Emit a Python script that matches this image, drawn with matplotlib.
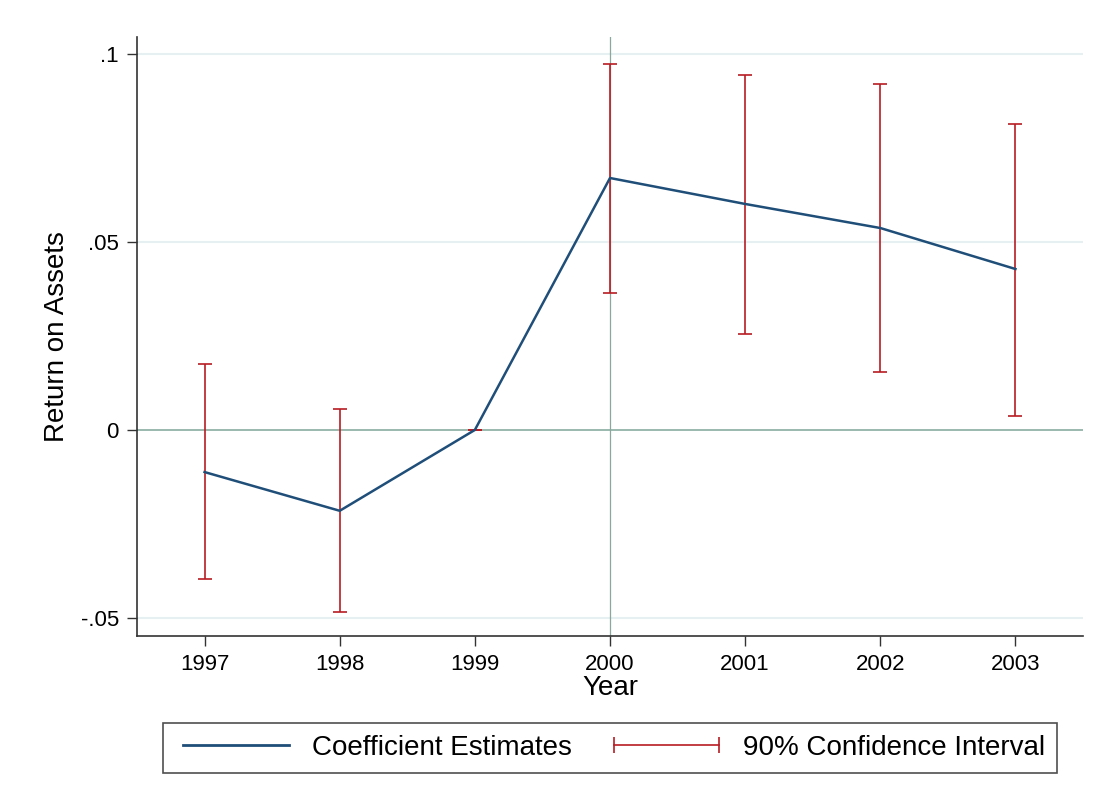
import matplotlib.pyplot as plt
from matplotlib.lines import Line2D
from matplotlib.legend_handler import HandlerLine2D
import numpy as np

plt.rcParams['font.family'] = ['Liberation Sans', 'DejaVu Sans']

# valores
anios = [1997, 1998, 1999, 2000, 2001, 2002, 2003]
coef = [-0.0112, -0.0215, 0.0, 0.0670, 0.0601, 0.0537, 0.0428]
ic_bajo = [-0.0396, -0.0484, 0.0, 0.0364, 0.0255, 0.0154, 0.0037]
ic_alto = [0.0176, 0.0056, 0.0, 0.0973, 0.0944, 0.0920, 0.0814]
yticks = [-0.05, 0, 0.05, 0.1]
ytick_labels = ['-.05', '0', '.05', '.1']

azul = '#1f4e79'
rojo = '#b81c24'

fig = plt.figure(figsize=(11.01, 8.05), dpi=100)
ax = fig.add_axes([137 / 1101, 1 - 636 / 805, 946 / 1101, 599 / 805])

# rejilla y lineas de referencia
for t in yticks:
    if t != 0:
        ax.axhline(t, color='#e6eff1', lw=1.5, zorder=0)
ax.axhline(0, color='#93b3a8', lw=1.3, zorder=1)
ax.axvline(2000, color='#8aa89e', lw=0.9, zorder=1)

# intervalo de confianza
coef_arr = np.array(coef)
yerr = [coef_arr - np.array(ic_bajo), np.array(ic_alto) - coef_arr]
ax.errorbar(anios, coef, yerr=yerr, fmt='none', ecolor=rojo, elinewidth=1.2,
            capsize=4.8, capthick=1.2, zorder=2)

# estimaciones
ax.plot(anios, coef, color=azul, lw=1.8, zorder=3)

ax.set_xlim(1996.5, 2003.5)
ax.set_ylim(-0.0548, 0.1045)
ax.set_xticks(anios)
ax.set_xticklabels([str(a) for a in anios])
ax.set_yticks(yticks)
ax.set_yticklabels(ytick_labels)
ax.tick_params(axis='both', direction='out', length=7, width=1, labelsize=16,
               color='#333333', pad=6)

for lado in ['top', 'right']:
    ax.spines[lado].set_visible(False)
for lado in ['left', 'bottom']:
    ax.spines[lado].set_color('#333333')
    ax.spines[lado].set_linewidth(1.2)

ax.set_xlabel('Year', fontsize=20, labelpad=0)
ax.set_ylabel('Return on Assets', fontsize=20, labelpad=8)

# leyenda
h1 = Line2D([], [], color=azul, lw=2)
h2 = Line2D([], [], color=rojo, lw=1.2, marker='|', markersize=12, markeredgewidth=1.2)
leg = fig.legend([h1, h2], ['Coefficient Estimates', '90% Confidence Interval'],
                 loc='center', ncol=2,
                 bbox_to_anchor=(610 / 1101, 1 - 748 / 805),
                 fontsize=20, frameon=True, fancybox=False, edgecolor='#222222',
                 handlelength=4.4, handletextpad=0.55, columnspacing=1.2,
                 borderpad=0.42, borderaxespad=0,
                 handler_map={h2: HandlerLine2D(numpoints=2), h1: HandlerLine2D(numpoints=2)})
leg.get_frame().set_linewidth(1.2)

plt.savefig('out.png', dpi=100)
